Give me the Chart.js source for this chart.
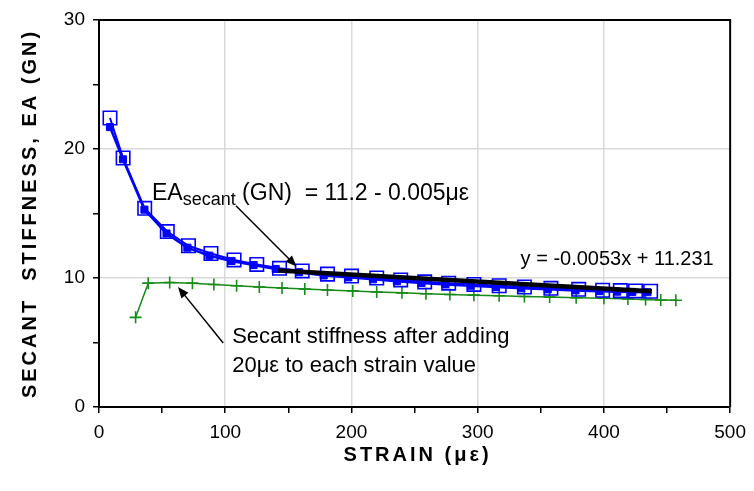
<!DOCTYPE html>
<html>
<head>
<meta charset="utf-8">
<script src="https://cdn.jsdelivr.net/npm/chart.js@4.4.1/dist/chart.umd.min.js"></script>
<style>
html,body{margin:0;padding:0;background:#fff;}
#wrap{width:754px;height:491px;position:relative;}
</style>
</head>
<body>
<div id="wrap"><canvas id="c" width="754" height="491"></canvas></div>
<script>
// ---- data ----
const secantStrain = [8.7, 19.1, 36.2, 54.1, 70.9, 88.7, 107, 125, 143, 161, 181, 200, 220, 239, 258, 277, 297, 317, 337, 358, 380, 399, 413, 425, 437];
const secantEA     = [22.4, 19.3, 15.4, 13.6, 12.5, 11.9, 11.4, 11.05, 10.75, 10.55, 10.3, 10.15, 10.0, 9.85, 9.7, 9.6, 9.5, 9.4, 9.3, 9.2, 9.12, 9.05, 9.02, 9.0, 8.97];
const measStrain   = [8.7, 19.0, 36, 53.5, 70, 87.5, 105, 122.5, 140, 158.5, 178, 197.5, 217, 236, 255.5, 274.5, 294.5, 314.5, 334.5, 355.5, 377.5, 396.5, 410.5, 422.5, 434.5];
const measEA       = [21.7, 19.2, 15.3, 13.45, 12.35, 11.73, 11.32, 11.0, 10.7, 10.45, 10.2, 10.05, 9.9, 9.75, 9.62, 9.5, 9.4, 9.3, 9.2, 9.12, 9.04, 8.98, 8.94, 8.92, 8.9];
const shiftStrain  = [29, 39, 56, 74, 91, 109, 127, 145, 163, 181, 201, 220, 240, 259, 278, 297, 317, 337, 357, 378, 400, 419, 433, 445, 457];
const shiftEA      = [6.95, 9.6, 9.65, 9.6, 9.5, 9.4, 9.3, 9.22, 9.15, 9.07, 9.0, 8.92, 8.85, 8.78, 8.72, 8.67, 8.62, 8.57, 8.52, 8.47, 8.43, 8.38, 8.34, 8.3, 8.27];
const trendStrain  = [142, 438];
const trendEA      = [10.58, 8.98];
const xTickLabels  = [0, 100, 200, 300, 400, 500];
const yTickLabels  = [0, 10, 20, 30];

const xTitle = 'STRAIN (\u03BC\u03B5)';
const yTitle = 'SECANT  STIFFNESS, EA (GN)';
const eqMain = 'EA';
const eqSub = 'secant';
const eqRest = ' (GN)  = 11.2 - 0.005\u03BC\u03B5';
const trendLabel = 'y = -0.0053x + 11.231';
const noteLines = ['Secant stiffness after adding', '20\u03BC\u03B5 to each strain value'];

// annotation anchors (data units)
const eqAnchor = {x: 42, y: 16.05};
const trendLabelAnchor = {x: 334, y: 11.0};
const noteAnchor = {x: 105.5, y: 4.96};
const arrow1 = {from: {x: 108.5, y: 15.6}, to: {x: 156.5, y: 10.9}};
const arrow2 = {from: {x: 98.4, y: 4.96}, to: {x: 62.6, y: 9.3}};

const FONT = '"Liberation Sans", Arial, Helvetica, sans-serif';
const GRID = '#d9d9d9';
const BLUE = '#0000ff';
const GREEN = '#178a17';

const pts = (xs, ys) => xs.map((x, i) => ({x: x, y: ys[i]}));

function drawArrow(ctx, x1, y1, x2, y2) {
  const ang = Math.atan2(y2 - y1, x2 - x1);
  const L = 11, W = 4.5;
  ctx.beginPath();
  ctx.moveTo(x1, y1);
  ctx.lineTo(x2 - Math.cos(ang) * L * 0.8, y2 - Math.sin(ang) * L * 0.8);
  ctx.stroke();
  ctx.beginPath();
  ctx.moveTo(x2, y2);
  ctx.lineTo(x2 - Math.cos(ang) * L + Math.sin(ang) * W, y2 - Math.sin(ang) * L - Math.cos(ang) * W);
  ctx.lineTo(x2 - Math.cos(ang) * L - Math.sin(ang) * W, y2 - Math.sin(ang) * L + Math.cos(ang) * W);
  ctx.closePath();
  ctx.fill();
}

const decor = {
  id: 'decor',
  afterDraw(chart) {
    const ctx = chart.ctx, a = chart.chartArea;
    const xs = chart.scales.x, ys = chart.scales.y;
    const X = v => xs.getPixelForValue(v), Y = v => ys.getPixelForValue(v);
    ctx.save();
    // frame
    ctx.strokeStyle = '#000';
    ctx.lineWidth = 2;
    ctx.beginPath();
    ctx.moveTo(a.left, a.top);
    ctx.lineTo(a.right, a.top);
    ctx.lineTo(a.right, a.bottom);
    ctx.stroke();

    ctx.fillStyle = '#000';
    // axis titles
    ctx.font = 'bold 20px ' + FONT;
    ctx.letterSpacing = '3px';
    ctx.textAlign = 'center';
    ctx.textBaseline = 'middle';
    ctx.fillText(xTitle, (a.left + a.right) / 2 + 3, a.bottom + 48);
    ctx.save();
    ctx.translate(a.left - 69, (a.top + a.bottom) / 2);
    ctx.rotate(-Math.PI / 2);
    ctx.fillText(yTitle, 0, 0);
    ctx.restore();
    ctx.letterSpacing = '0px';

    // equation label with subscript
    ctx.textAlign = 'left';
    ctx.textBaseline = 'alphabetic';
    let x = X(eqAnchor.x), y = Y(eqAnchor.y);
    ctx.font = '23px ' + FONT;
    ctx.fillText(eqMain, x, y);
    x += ctx.measureText(eqMain).width;
    ctx.font = '18px ' + FONT;
    ctx.fillText(eqSub, x, y + 5);
    x += ctx.measureText(eqSub).width;
    ctx.font = '23px ' + FONT;
    ctx.fillText(eqRest, x, y);

    // trend equation
    ctx.font = '20px ' + FONT;
    ctx.fillText(trendLabel, X(trendLabelAnchor.x), Y(trendLabelAnchor.y));

    // note
    ctx.font = '22px ' + FONT;
    ctx.fillText(noteLines[0], X(noteAnchor.x), Y(noteAnchor.y));
    ctx.fillText(noteLines[1], X(noteAnchor.x), Y(noteAnchor.y) + 29);

    // arrows
    ctx.strokeStyle = '#000';
    ctx.lineWidth = 1.5;
    drawArrow(ctx, X(arrow1.from.x), Y(arrow1.from.y), X(arrow1.to.x), Y(arrow1.to.y));
    drawArrow(ctx, X(arrow2.from.x), Y(arrow2.from.y), X(arrow2.to.x), Y(arrow2.to.y));
    ctx.restore();
  }
};

new Chart(document.getElementById('c'), {
  type: 'scatter',
  data: {
    datasets: [
      {
        label: 'Secant stiffness',
        data: pts(secantStrain, secantEA),
        showLine: true,
        borderColor: BLUE,
        borderWidth: 2,
        pointStyle: 'rect',
        pointRadius: 9.5,
        pointBorderWidth: 1.6,
        pointBorderColor: BLUE,
        pointBackgroundColor: 'rgba(0,0,0,0)',
        order: 3
      },
      {
        label: 'Secant stiffness (measured)',
        data: pts(measStrain, measEA),
        showLine: true,
        borderColor: BLUE,
        borderWidth: 2.5,
        pointStyle: 'rect',
        pointRadius: 5,
        pointBorderWidth: 1,
        pointBorderColor: BLUE,
        pointBackgroundColor: BLUE,
        order: 2
      },
      {
        label: 'After adding 20 \u03BC\u03B5',
        data: pts(shiftStrain, shiftEA),
        showLine: true,
        borderColor: GREEN,
        borderWidth: 1.5,
        pointStyle: 'cross',
        pointRadius: 6,
        pointBorderWidth: 1.6,
        pointBorderColor: GREEN,
        order: 4
      },
      {
        label: 'Trend',
        data: pts(trendStrain, trendEA),
        showLine: true,
        borderColor: '#000',
        borderWidth: 4.5,
        pointRadius: 0,
        order: 1
      }
    ]
  },
  options: {
    responsive: false,
    animation: false,
    devicePixelRatio: 1,
    layout: {padding: {top: 20, right: 20, left: 0, bottom: 0}},
    plugins: {legend: {display: false}, tooltip: {enabled: false}, title: {display: false}},
    scales: {
      x: {
        type: 'linear', min: 0, max: 500,
        ticks: {
          stepSize: 50, autoSkip: false, maxRotation: 0, color: '#000', padding: 8,
          font: {family: FONT, size: 19},
          callback: v => xTickLabels.includes(v) ? String(v) : ''
        },
        grid: {
          color: c => (c.tick && xTickLabels.includes(c.tick.value) && c.tick.value > 0 && c.tick.value < 500) ? GRID : 'rgba(0,0,0,0)',
          lineWidth: 1.5, tickColor: '#000', tickLength: 6, tickWidth: 1.5, drawTicks: true
        },
        border: {display: true, color: '#000', width: 2},
        afterFit: s => { s.height = 84; }
      },
      y: {
        type: 'linear', min: 0, max: 30,
        ticks: {
          stepSize: 5, autoSkip: false, color: '#000', padding: 8,
          font: {family: FONT, size: 19},
          callback: v => yTickLabels.includes(v) ? String(v) : ''
        },
        grid: {
          color: c => (c.tick && yTickLabels.includes(c.tick.value) && c.tick.value > 0 && c.tick.value < 30) ? GRID : 'rgba(0,0,0,0)',
          lineWidth: 1.5, tickColor: '#000', tickLength: 6, tickWidth: 1.5, drawTicks: true
        },
        border: {display: true, color: '#000', width: 2},
        afterFit: s => { s.width = 99; }
      }
    }
  },
  plugins: [decor]
});
</script>
</body>
</html>
